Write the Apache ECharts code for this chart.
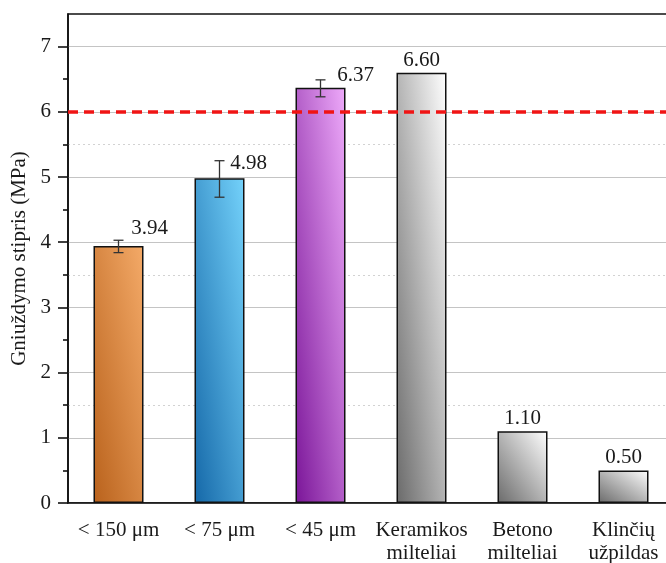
<!DOCTYPE html>
<html>
<head>
<meta charset="utf-8">
<script src="https://cdn.jsdelivr.net/npm/echarts@6/dist/echarts.min.js"></script>
<style>
  html, body { margin: 0; padding: 0; background: #fff; }
  #chart { width: 666px; height: 563px; }
</style>
</head>
<body>
<div id="chart"></div>
<script>
// Compressive strength of samples by filler type
const categories = ['< 150 μm', '< 75 μm', '< 45 μm', 'Keramikos\nmilteliai', 'Betono\nmilteliai', 'Klinčių\nužpildas'];
const strength = [3.94, 4.98, 6.37, 6.60, 1.10, 0.50];
const errLow = [3.84, 4.69, 6.23, null, null, null];
const errHigh = [4.03, 5.25, 6.49, null, null, null];
const limitValue = 6;
const majorTicks = [0, 1, 2, 3, 4, 5, 6, 7];
const minorTicks = [0.5, 1.5, 2.5, 3.5, 4.5, 5.5, 6.5];

// fill: dark bottom-left corner fading to light top-right corner
const fills = [
  ['#b9621c', '#f4aa68'],
  ['#1568a8', '#74d2fb'],
  ['#7a1598', '#eeaafa'],
  ['#6a6a6a', '#ffffff'],
  ['#6a6a6a', '#ffffff'],
  ['#6a6a6a', '#ffffff']
];
const labelOffsets = [[31, -5], [29, -2], [35, 0], [0, 0], [0, 0], [0, 0]];
const BAR_W = 50;

const FONT = 'Liberation Serif';
const TXT = '#1a1a1a';

// Corner-to-corner gradient whose bands follow the bar's own diagonal
// (as if stretched with the box), for a bar w px wide and h px tall.
function cornerGradient(w, h, c0, c1) {
  const s = w * w + h * h;
  const x2 = 2 * h * h / s;
  const y2 = 1 - 2 * w * w / s;
  return new echarts.graphic.LinearGradient(0, 1, x2, y2, [
    { offset: 0, color: c0 },
    { offset: 1, color: c1 }
  ]);
}

function buildBarData(heights) {
  return strength.map((v, i) => ({
    value: v,
    itemStyle: { color: cornerGradient(BAR_W, Math.max(heights[i], 1), fills[i][0], fills[i][1]) },
    label: { offset: labelOffsets[i] }
  }));
}

const errData = [];
strength.forEach((v, i) => {
  if (errLow[i] != null) errData.push([i, errLow[i], errHigh[i]]);
});

const chart = echarts.init(document.getElementById('chart'), null, { renderer: 'canvas' });

chart.setOption({
  animation: false,
  backgroundColor: '#fff',
  textStyle: { fontFamily: FONT },
  grid: {
    left: 68, top: 14, width: 606, bottom: 60,
    containLabel: false, outerBoundsMode: 'none',
    show: true, borderColor: '#111', borderWidth: 1.6, backgroundColor: 'transparent'
  },
  xAxis: {
    type: 'category',
    data: categories,
    axisLine: { lineStyle: { color: '#111', width: 1.6 } },
    axisTick: { alignWithLabel: true, length: 9, lineStyle: { color: '#111', width: 1.6 } },
    axisLabel: {
      interval: 0, margin: 16, fontFamily: FONT, fontSize: 21, color: TXT,
      lineHeight: 23, verticalAlign: 'top'
    },
    splitLine: { show: false }
  },
  yAxis: [
    {
      type: 'value', min: 0, max: 7.5, interval: 1,
      name: 'Gniuždymo stipris (MPa)', nameLocation: 'middle', nameGap: 35,
      nameTextStyle: { fontFamily: FONT, fontSize: 21, color: TXT },
      axisLine: { show: true, lineStyle: { color: '#111', width: 1.6 } },
      axisTick: { show: true, length: 10, customValues: majorTicks, lineStyle: { color: '#111', width: 1.6 } },
      axisLabel: { margin: 17, customValues: majorTicks, fontFamily: FONT, fontSize: 21, color: TXT },
      splitLine: { show: true, lineStyle: { color: '#c4c4c4', width: 1.2 } }
    },
    {
      type: 'value', min: 0, max: 7.5, interval: 0.5, position: 'left',
      axisLine: { show: false },
      axisTick: { show: true, length: 5, customValues: minorTicks, lineStyle: { color: '#111', width: 1.6 } },
      axisLabel: { show: false },
      splitLine: { show: true, lineStyle: { color: ['rgba(0,0,0,0)', '#d2d2d2'], width: 1.2, type: [2, 3] } }
    }
  ],
  series: [
    {
      type: 'bar',
      data: buildBarData(strength.map(() => BAR_W)),
      barWidth: BAR_W,
      itemStyle: { borderColor: '#111', borderWidth: 1.5 },
      label: {
        show: true, position: 'top', distance: 2,
        formatter: p => p.value.toFixed(2),
        fontFamily: FONT, fontSize: 21, color: TXT
      },
      markLine: {
        silent: true, symbol: 'none',
        label: { show: false },
        lineStyle: { color: '#f01414', width: 3.5, type: [10, 6] },
        data: [{ yAxis: limitValue }]
      },
      z: 2
    },
    {
      type: 'custom',
      data: errData,
      z: 3,
      renderItem: (params, api) => {
        const x = api.value(0);
        const lo = api.coord([x, api.value(1)]);
        const hi = api.coord([x, api.value(2)]);
        const cap = 5;
        const st = { stroke: '#333', lineWidth: 1.3 };
        return {
          type: 'group',
          children: [
            { type: 'line', shape: { x1: lo[0], y1: lo[1], x2: hi[0], y2: hi[1] }, style: st },
            { type: 'line', shape: { x1: lo[0] - cap, y1: lo[1], x2: lo[0] + cap, y2: lo[1] }, style: st },
            { type: 'line', shape: { x1: hi[0] - cap, y1: hi[1], x2: hi[0] + cap, y2: hi[1] }, style: st }
          ]
        };
      }
    }
  ]
});

// Bar pixel heights from the value axis, then refit each bar's gradient
const y0 = chart.convertToPixel({ yAxisIndex: 0 }, 0);
const heights = strength.map(v => y0 - chart.convertToPixel({ yAxisIndex: 0 }, v));
chart.setOption({ series: [{ data: buildBarData(heights) }] });
</script>
</body>
</html>
